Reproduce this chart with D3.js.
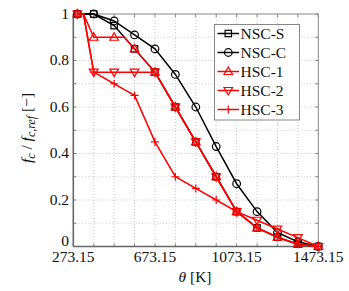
<!DOCTYPE html>
<html><head><meta charset="utf-8">
<script src="https://cdn.jsdelivr.net/npm/d3@7"></script>
<style>body{margin:0;background:#fff;}svg{display:block;}</style>
</head><body>
<svg id="c" width="349" height="291"></svg>
<script>
// ---- data ----
const tempsNSC = [293.15, 373.15, 473.15, 573.15, 673.15, 773.15, 873.15, 973.15, 1073.15, 1173.15, 1273.15, 1373.15, 1473.15];
const nscS = [1, 1, 0.95, 0.85, 0.75, 0.6, 0.45, 0.3, 0.15, 0.08, 0.04, 0.01, 0];
const nscC = [1, 1, 0.97, 0.91, 0.85, 0.74, 0.6, 0.43, 0.27, 0.15, 0.06, 0.02, 0];
const tempsHSC = [293.15, 323.15, 373.15, 473.15, 523.15, 573.15, 673.15, 773.15, 873.15, 973.15, 1073.15, 1173.15, 1273.15, 1373.15, 1473.15];
const hsc1 = [1, 1, 0.9, 0.9, 0.9, 0.85, 0.75, 0.6, 0.45, 0.3, 0.15, 0.08, 0.04, 0.01, 0];
const hsc2 = [1, 1, 0.75, 0.75, 0.75, 0.75, 0.75, 0.6, 0.45, 0.3, 0.15, 0.113, 0.075, 0.038, 0];
const hsc3 = [1, 1, 0.75, 0.70, 0.675, 0.65, 0.45, 0.30, 0.25, 0.20, 0.15, 0.08, 0.04, 0.01, 0];
const unmarkedTemps = [323.15, 523.15];
const xTickLabels = [273.15, 673.15, 1073.15, 1473.15];
const yTickLabels = [0, 0.2, 0.4, 0.6, 0.8, 1];
const seriesNames = ["NSC-S", "NSC-C", "HSC-1", "HSC-2", "HSC-3"];

const series = [
  {name: seriesNames[0], t: tempsNSC, v: nscS, color: "#000", sym: "square"},
  {name: seriesNames[1], t: tempsNSC, v: nscC, color: "#000", sym: "circle"},
  {name: seriesNames[2], t: tempsHSC, v: hsc1, color: "#ff0000", sym: "tri"},
  {name: seriesNames[3], t: tempsHSC, v: hsc2, color: "#ff0000", sym: "tridown"},
  {name: seriesNames[4], t: tempsHSC, v: hsc3, color: "#ff0000", sym: "plus"}
];

const svg = d3.select("#c");
const L = 73.3, R = 318.3, T = 14, B = 246.5;
const x = d3.scaleLinear().domain([273.15, 1473.15]).range([L, R]);
const y = d3.scaleLinear().domain([0, 1]).range([B, T]);
const FONT = "'Liberation Serif', 'Times New Roman', 'Noto Serif', 'DejaVu Serif', serif";
const FS = 15.5;

const xGrid = d3.range(0, 13).map(i => 273.15 + i * 100);
const yGrid = d3.range(0, 11).map(i => i / 10);

// grid
const g = svg.append("g");
g.selectAll(".gx").data(xGrid.slice(1, -1)).join("line")
  .attr("x1", d => x(d)).attr("x2", d => x(d)).attr("y1", T).attr("y2", B)
  .attr("stroke", "#bbb").attr("stroke-width", 0.8).attr("stroke-dasharray", "1,2");
g.selectAll(".gy").data(yGrid.slice(1, -1)).join("line")
  .attr("x1", L).attr("x2", R).attr("y1", d => y(d)).attr("y2", d => y(d))
  .attr("stroke", "#bbb").attr("stroke-width", 0.8).attr("stroke-dasharray", "1,2");

// inward ticks on all sides
const tk = 3;
const tickG = svg.append("g").attr("stroke", "#666").attr("stroke-width", 0.8);
xGrid.forEach(d => {
  tickG.append("line").attr("x1", x(d)).attr("x2", x(d)).attr("y1", B).attr("y2", B - tk);
  tickG.append("line").attr("x1", x(d)).attr("x2", x(d)).attr("y1", T).attr("y2", T + tk);
});
yGrid.forEach(d => {
  tickG.append("line").attr("x1", L).attr("x2", L + tk).attr("y1", y(d)).attr("y2", y(d));
  tickG.append("line").attr("x1", R).attr("x2", R - tk).attr("y1", y(d)).attr("y2", y(d));
});

// frame
svg.append("line").attr("x1", L).attr("x2", R).attr("y1", T).attr("y2", T).attr("stroke", "#888").attr("stroke-width", 1);
svg.append("line").attr("x1", R).attr("x2", R).attr("y1", T).attr("y2", B).attr("stroke", "#888").attr("stroke-width", 1);
svg.append("line").attr("x1", L).attr("x2", L).attr("y1", T).attr("y2", B).attr("stroke", "#666").attr("stroke-width", 1.6);
svg.append("line").attr("x1", L).attr("x2", R).attr("y1", B).attr("y2", B).attr("stroke", "#666").attr("stroke-width", 1.6);

// tick labels
svg.selectAll(".xl").data(xTickLabels).join("text")
  .attr("x", d => x(d)).attr("y", 262).attr("text-anchor", "middle")
  .style("font-family", FONT).style("font-size", FS + "px").attr("fill", "#111")
  .text(d => d.toFixed(2));
svg.selectAll(".yl").data(yTickLabels).join("text")
  .attr("x", 69).attr("y", d => d === 0 ? y(d) - 0.5 : y(d) + 4.5).attr("text-anchor", "end")
  .style("font-family", FONT).style("font-size", FS + "px").attr("fill", "#111")
  .text(d => d === 0 || d === 1 ? String(d) : d.toFixed(1));

// axis titles
svg.append("text").attr("x", 195).attr("y", 282).attr("text-anchor", "middle")
  .style("font-family", FONT).style("font-size", FS + "px").attr("fill", "#111")
  .html('<tspan font-style="italic">θ</tspan> [K]');
const yl = svg.append("text").attr("transform", "translate(32,128) rotate(-90)")
  .attr("text-anchor", "middle").style("font-family", FONT).style("font-size", FS + "px").attr("fill", "#111");
yl.append("tspan").attr("font-style", "italic").text("f");
yl.append("tspan").style("font-size", "12px").attr("dy", 3).attr("font-style", "italic").text("c");
yl.append("tspan").attr("dy", -3).text(" / ");
yl.append("tspan").attr("font-style", "italic").text("f");
yl.append("tspan").style("font-size", "12px").attr("dy", 3).attr("font-style", "italic").text("c,ref");
yl.append("tspan").attr("dy", -3).text("  [−]");

// markers
function drawMarker(sel, sym, cx, cy, color) {
  const sw = 1.2;
  if (sym === "square") {
    sel.append("rect").attr("x", cx - 3.2).attr("y", cy - 3.2).attr("width", 6.4).attr("height", 6.4)
      .attr("fill", "none").attr("stroke", color).attr("stroke-width", sw);
  } else if (sym === "circle") {
    sel.append("circle").attr("cx", cx).attr("cy", cy).attr("r", 3.8)
      .attr("fill", "none").attr("stroke", color).attr("stroke-width", sw);
  } else if (sym === "tri") {
    sel.append("path").attr("d", `M${cx},${cy - 4.5}L${cx + 4.3},${cy + 3}L${cx - 4.3},${cy + 3}Z`)
      .attr("fill", "none").attr("stroke", color).attr("stroke-width", sw);
  } else if (sym === "tridown") {
    sel.append("path").attr("d", `M${cx},${cy + 4.5}L${cx + 4.3},${cy - 3}L${cx - 4.3},${cy - 3}Z`)
      .attr("fill", "none").attr("stroke", color).attr("stroke-width", sw);
  } else if (sym === "plus") {
    sel.append("path").attr("d", `M${cx - 4},${cy}H${cx + 4}M${cx},${cy - 4}V${cy + 4}`)
      .attr("fill", "none").attr("stroke", color).attr("stroke-width", sw);
  }
}

const line = d3.line().x(d => x(d[0])).y(d => y(d[1]));
series.forEach(s => {
  const pts = s.t.map((t, i) => [t, s.v[i]]);
  const sg = svg.append("g");
  sg.append("path").attr("d", line(pts)).attr("fill", "none").attr("stroke", s.color).attr("stroke-width", 1.5);
  pts.filter(p => !unmarkedTemps.includes(p[0])).forEach(p => drawMarker(sg, s.sym, x(p[0]), y(p[1]), s.color));
});

// legend
const lg = svg.append("g");
lg.append("rect").attr("x", 214.5).attr("y", 24.5).attr("width", 85).attr("height", 95.5)
  .attr("fill", "#fff").attr("stroke", "#888").attr("stroke-width", 1);
series.forEach((s, i) => {
  const cy = 33.5 + i * 19;
  lg.append("line").attr("x1", 217.5).attr("x2", 239).attr("y1", cy).attr("y2", cy)
    .attr("stroke", s.color).attr("stroke-width", 1.5);
  drawMarker(lg, s.sym, 228.3, cy, s.color);
  lg.append("text").attr("x", 240.5).attr("y", cy + 5).style("font-family", FONT).style("font-size", FS + "px")
    .attr("fill", "#111").text(s.name);
});
</script>
</body></html>
